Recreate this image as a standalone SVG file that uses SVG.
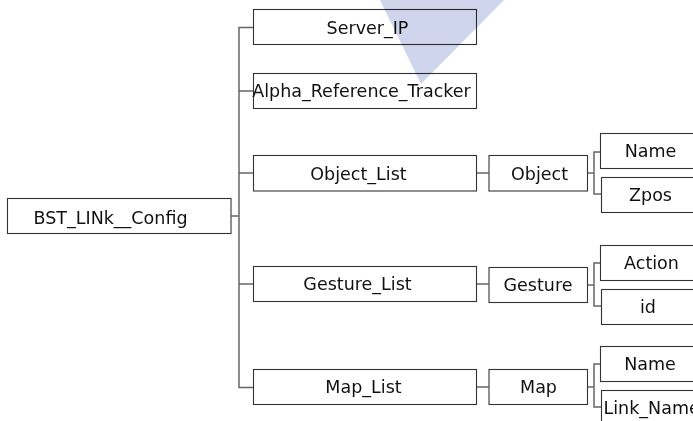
<svg xmlns="http://www.w3.org/2000/svg" width="693" height="421" viewBox="0 0 693 421">
<style>
.box{fill:#fff;stroke:#333;stroke-width:1.1}
.con{fill:none;stroke:#666;stroke-width:1.5}
text{font-family:"DejaVu Sans","Verdana",sans-serif;font-size:17.5px;fill:#111;text-anchor:middle}
</style>
<rect width="693" height="421" fill="#fff"/>
<g id="nodes">
<g id="BST_LINk__Config"><rect class="box" x="7.5" y="198.5" width="223.5" height="35"/><text x="110.5" y="224">BST_LINk__Config</text></g>
<g id="Server_IP"><rect class="box" x="253.5" y="9.5" width="223" height="35"/><text x="367.5" y="33.5">Server_IP</text></g>
<g id="Alpha_Reference_Tracker"><rect class="box" x="253.5" y="73.5" width="223" height="35"/><text x="361.5" y="97">Alpha_Reference_Tracker</text></g>
<g id="Object_List"><rect class="box" x="253.5" y="155.5" width="223" height="35.5"/><text x="358.5" y="180">Object_List</text></g>
<g id="Gesture_List"><rect class="box" x="253.5" y="266.5" width="223" height="35"/><text x="357.5" y="290">Gesture_List</text></g>
<g id="Map_List"><rect class="box" x="253.5" y="369.5" width="223" height="35"/><text x="363.5" y="393">Map_List</text></g>
<g id="Object"><rect class="box" x="489" y="155.5" width="98.5" height="35.5"/><text x="539.5" y="180">Object</text></g>
<g id="Gesture"><rect class="box" x="489" y="267.5" width="98.5" height="35"/><text x="538" y="291">Gesture</text></g>
<g id="Map"><rect class="box" x="489" y="369.5" width="98.5" height="35"/><text x="538.5" y="393">Map</text></g>
<g id="Object_Name"><rect class="box" x="600.5" y="133.5" width="110" height="35"/><text x="650.5" y="157">Name</text></g>
<g id="Object_Zpos"><rect class="box" x="601.5" y="177.5" width="110" height="35"/><text x="650.5" y="201">Zpos</text></g>
<g id="Gesture_Action"><rect class="box" x="600.5" y="245.5" width="110" height="35"/><text x="651.5" y="269">Action</text></g>
<g id="Gesture_id"><rect class="box" x="601.5" y="289.5" width="110" height="35"/><text x="648" y="313">id</text></g>
<g id="Map_Name"><rect class="box" x="600.5" y="346.5" width="110" height="35"/><text x="650" y="370">Name</text></g>
<g id="Map_Link_Name"><rect class="box" x="601.5" y="390.5" width="110" height="40"/><text x="603.5" y="414" style="text-anchor:start">Link_Name</text></g>
</g>
<polygon points="380,0 504,0 421,84" fill="#cfd5ec" style="mix-blend-mode:multiply"/>
<g id="connectors">
<path class="con" d="M253,27.5H239V387.5H253"/>
<path class="con" d="M239,91H253"/>
<path class="con" d="M239,173H253"/>
<path class="con" d="M239,284H253"/>
<path class="con" d="M231,216H239"/>
<path class="con" d="M477,173H489"/>
<path class="con" d="M588,173H594"/>
<path class="con" d="M600,152H594V194H601"/>
<path class="con" d="M477,284H489"/>
<path class="con" d="M588,285H594"/>
<path class="con" d="M600,263H594V306H601"/>
<path class="con" d="M477,387H489"/>
<path class="con" d="M588,387H594"/>
<path class="con" d="M600,364H594V407H601"/>
</g>
</svg>
